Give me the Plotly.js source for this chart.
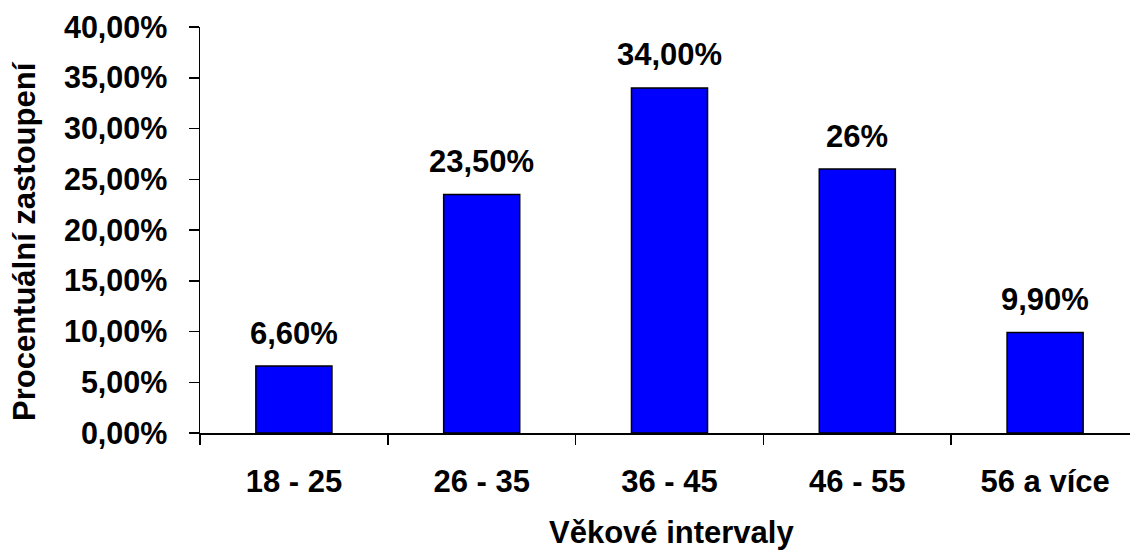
<!DOCTYPE html>
<html>
<head>
<meta charset="utf-8">
<script src="https://cdn.plot.ly/plotly-3.0.1.min.js"></script>
<style>
  html, body { margin: 0; padding: 0; background: #fff; overflow: hidden; }
  #chart { width: 1140px; height: 551px; }
</style>
</head>
<body>
<div id="chart"></div>
<script>
// Age intervals and their percentage share
const categories = ['18 - 25', '26 - 35', '36 - 45', '46 - 55', '56 a více'];
const shares = [6.6, 23.5, 34.0, 26, 9.9];
const shareLabels = ['6,60%', '23,50%', '34,00%', '26%', '9,90%'];
const yTickValues = [0, 5, 10, 15, 20, 25, 30, 35, 40];
const yTickLabels = ['0,00%', '5,00%', '10,00%', '15,00%', '20,00%', '25,00%', '30,00%', '35,00%', '40,00%'];
const xTitle = 'Věkové intervaly';
const yTitle = 'Procentuální zastoupení';

const FONT = 'Liberation Sans, Arial, sans-serif';
const boldFont = (size) => ({ family: FONT, size: size, color: '#000', weight: 'bold' });

const trace = {
  type: 'bar',
  x: categories,
  y: shares,
  width: 0.405,
  marker: { color: '#0000FF', line: { color: '#000', width: 1.5 } },
  hoverinfo: 'skip'
};

// value labels above each bar
const valueLabels = categories.map((c, i) => ({
  x: c,
  y: shares[i],
  xref: 'x',
  yref: 'y',
  text: shareLabels[i],
  showarrow: false,
  yanchor: 'middle',
  yshift: 33,
  font: boldFont(31)
}));

// axis titles, placed as free text around the plot area
const xTitleNote = {
  xref: 'paper',
  yref: 'paper',
  x: 0.5,
  y: 0,
  xshift: 2,
  yshift: -99,
  xanchor: 'center',
  yanchor: 'middle',
  text: xTitle,
  showarrow: false,
  font: boldFont(31)
};

const yTitleNote = {
  xref: 'paper',
  yref: 'paper',
  x: 0,
  y: 0.5,
  xshift: -176,
  yshift: -11,
  xanchor: 'center',
  yanchor: 'middle',
  textangle: -90,
  text: yTitle,
  showarrow: false,
  font: boldFont(31)
};

const layout = {
  width: 1140,
  height: 551,
  margin: { l: 200, r: 1, t: 27, b: 118 },
  paper_bgcolor: '#fff',
  plot_bgcolor: '#fff',
  showlegend: false,
  xaxis: {
    type: 'category',
    tickson: 'boundaries',
    ticks: 'outside',
    ticklen: 10,
    tickwidth: 1.5,
    tickcolor: '#000',
    showline: true,
    linecolor: '#000',
    linewidth: 1.5,
    showgrid: false,
    zeroline: false,
    tickfont: boldFont(31),
    ticklabelstandoff: 20,
    automargin: false,
    fixedrange: true
  },
  yaxis: {
    range: [0, 40],
    tickvals: yTickValues,
    ticktext: yTickLabels,
    ticks: 'outside',
    ticklen: 10,
    tickwidth: 1.5,
    tickcolor: '#000',
    showline: true,
    linecolor: '#000',
    linewidth: 1.5,
    showgrid: false,
    zeroline: false,
    tickfont: boldFont(30.5),
    ticklabelstandoff: 15,
    automargin: false,
    fixedrange: true
  },
  annotations: valueLabels.concat([xTitleNote, yTitleNote])
};

Plotly.newPlot('chart', [trace], layout, { displayModeBar: false, staticPlot: true });
</script>
</body>
</html>
